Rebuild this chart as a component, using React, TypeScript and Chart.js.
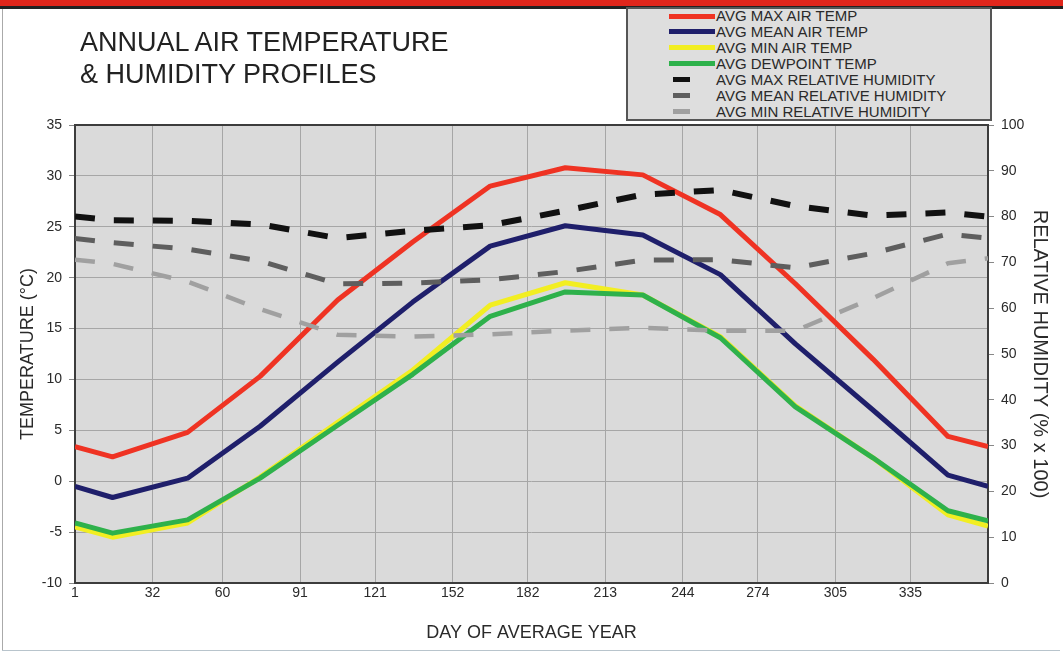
import React, { useEffect, useRef } from 'react';
import { Chart, registerables } from 'chart.js';

Chart.register(...registerables);

// ---- data ----
const days = [1, 16, 46, 75, 106, 136, 167, 197, 228, 259, 289, 320, 350, 366];
const avgMaxAirTemp = [3.4, 2.4, 4.8, 10.3, 17.8, 23.5, 29.0, 30.8, 30.1, 26.2, 19.4, 12.0, 4.4, 3.4];
const avgMeanAirTemp = [-0.5, -1.6, 0.3, 5.4, 11.7, 17.6, 23.1, 25.1, 24.2, 20.3, 13.5, 7.0, 0.6, -0.5];
const avgMinAirTemp = [-4.5, -5.5, -4.1, 0.4, 5.8, 10.9, 17.3, 19.5, 18.3, 14.2, 7.4, 2.3, -3.3, -4.4];
const avgDewpointTemp = [-4.1, -5.1, -3.8, 0.3, 5.5, 10.5, 16.2, 18.6, 18.3, 14.1, 7.3, 2.3, -2.9, -3.9];
const avgMaxRH = [80.0, 79.2, 79.1, 78.3, 75.3, 76.9, 78.1, 81.3, 84.8, 85.8, 82.3, 80.2, 80.9, 80.0];
const avgMeanRH = [75.2, 74.3, 72.9, 70.3, 65.3, 65.5, 66.2, 68.0, 70.5, 70.6, 68.8, 72.0, 76.2, 75.3];
const avgMinRH = [70.6, 69.7, 65.8, 59.8, 54.2, 53.8, 54.3, 55.1, 55.7, 55.1, 55.1, 62.2, 69.8, 70.9];

const dayTicks = [1, 32, 60, 91, 121, 152, 182, 213, 244, 274, 305, 335, 366];
const dayTickLabels = ['1', '32', '60', '91', '121', '152', '182', '213', '244', '274', '305', '335', ''];

const seriesNames = [
  'AVG MAX AIR TEMP',
  'AVG MEAN AIR TEMP',
  'AVG MIN AIR TEMP',
  'AVG DEWPOINT TEMP',
  'AVG MAX RELATIVE HUMIDITY',
  'AVG MEAN RELATIVE HUMIDITY',
  'AVG MIN RELATIVE HUMIDITY',
];
const seriesValues = [avgMaxAirTemp, avgMeanAirTemp, avgMinAirTemp, avgDewpointTemp, avgMaxRH, avgMeanRH, avgMinRH];
const seriesColors = ['#ef3323', '#1f1f6b', '#f2ee22', '#2eb14b', '#111111', '#5e5e5e', '#a0a0a0'];
const seriesAxis = ['yT', 'yT', 'yT', 'yT', 'yH', 'yH', 'yH'];
const seriesDashed = [false, false, false, false, true, true, true];
const seriesWidths = [5, 5, 5, 5, 6, 5, 4.5];
const seriesOrder = [4, 3, 6, 5, 0, 1, 2];

const FONT = '"Liberation Sans", Arial, Helvetica, sans-serif';

const plotBox = {
  id: 'plotBox',
  beforeDraw(chart: any) {
    const { ctx, chartArea } = chart;
    ctx.save();
    ctx.fillStyle = '#dadada';
    ctx.fillRect(chartArea.left, chartArea.top, chartArea.right - chartArea.left, chartArea.bottom - chartArea.top);
    ctx.restore();
  },
  beforeDatasetsDraw(chart: any) {
    const { ctx, chartArea } = chart;
    ctx.save();
    ctx.strokeStyle = '#3c3c3c';
    ctx.lineWidth = 2;
    ctx.strokeRect(chartArea.left, chartArea.top, chartArea.right - chartArea.left, chartArea.bottom - chartArea.top);
    ctx.restore();
  },
};

export default function App() {
  const canvasRef = useRef<HTMLCanvasElement>(null);

  useEffect(() => {
    document.body.style.margin = '0';
    const canvas = canvasRef.current;
    if (!canvas) return;
    Chart.defaults.font.family = FONT;
    const datasets = seriesNames.map((name, i) => ({
      label: name,
      data: days.map((d, j) => ({ x: d, y: seriesValues[i][j] })),
      borderColor: seriesColors[i],
      backgroundColor: seriesColors[i],
      borderWidth: seriesWidths[i],
      borderDash: seriesDashed[i] ? [20, 19] : [],
      borderJoinStyle: 'round' as const,
      pointRadius: 0,
      tension: 0,
      fill: false,
      yAxisID: seriesAxis[i],
      order: seriesOrder[i],
    }));
    const chart = new Chart(canvas, {
      type: 'line',
      data: { datasets },
      plugins: [plotBox],
      options: {
        animation: false,
        responsive: false,
        devicePixelRatio: 1,
        layout: { padding: { top: 125, left: 0, right: 0, bottom: 0 } },
        plugins: { legend: { display: false }, tooltip: { enabled: false }, title: { display: false } },
        scales: {
          x: {
            type: 'linear',
            min: 1,
            max: 366,
            afterBuildTicks: (scale: any) => {
              scale.ticks = dayTicks.map((v) => ({ value: v }));
            },
            afterFit: (scale: any) => {
              scale.height = 73;
            },
            ticks: {
              autoSkip: false,
              maxRotation: 0,
              padding: 2,
              color: '#2a2a2a',
              font: { size: 14 },
              callback: (v: any) => dayTickLabels[dayTicks.indexOf(Number(v))] ?? '',
            },
            grid: { color: '#a6a6a6', lineWidth: 1, drawTicks: false },
            border: { display: false },
            title: {
              display: true,
              text: 'DAY OF AVERAGE YEAR',
              color: '#2a2a2a',
              font: { size: 18 },
              padding: { top: 0, bottom: 12 },
            },
          },
          yT: {
            type: 'linear',
            position: 'left',
            min: -10,
            max: 35,
            ticks: { stepSize: 5, padding: 7, color: '#2a2a2a', font: { size: 14 } },
            afterFit: (scale: any) => {
              scale.width = 75;
            },
            grid: { color: '#a6a6a6', lineWidth: 1, drawTicks: true, tickLength: 6, tickColor: '#888' },
            border: { display: false },
            title: {
              display: true,
              text: 'TEMPERATURE (°C)',
              color: '#2a2a2a',
              font: { size: 18 },
              padding: { top: 17, bottom: 0 },
            },
          },
          yH: {
            type: 'linear',
            position: 'right',
            min: 0,
            max: 100,
            ticks: { stepSize: 10, padding: 7, color: '#2a2a2a', font: { size: 14 } },
            afterFit: (scale: any) => {
              scale.width = 75;
            },
            grid: { drawOnChartArea: false, drawTicks: true, tickLength: 6, tickColor: '#888' },
            border: { display: false },
            title: {
              display: true,
              text: 'RELATIVE HUMIDITY (% x 100)',
              color: '#2a2a2a',
              font: { size: 20 },
              padding: { top: 11, bottom: 0 },
            },
          },
        },
      },
    });
    return () => chart.destroy();
  }, []);

  const legendTop = 16;
  const legendStep = 15.95;

  return (
    <div
      style={{
        position: 'relative',
        width: 1063,
        height: 656,
        background: '#ffffff',
        overflow: 'hidden',
        fontFamily: FONT,
      }}
    >
      <div style={{ position: 'absolute', left: 0, top: 0, width: 1063, height: 6, background: '#e0261b' }} />
      <div style={{ position: 'absolute', left: 0, top: 6, width: 1063, height: 3, background: '#222' }} />
      <div style={{ position: 'absolute', left: 2, top: 9, width: 1, height: 641, background: '#aaa' }} />
      <div style={{ position: 'absolute', left: 2, top: 650, width: 1058, height: 1, background: '#b8c4cc' }} />
      <canvas
        ref={canvasRef}
        width={1063}
        height={656}
        style={{ position: 'absolute', left: 0, top: 0, width: 1063, height: 656 }}
      />
      <div
        style={{
          position: 'absolute',
          left: 80,
          top: 26,
          fontSize: 27,
          lineHeight: '32px',
          color: '#222',
          whiteSpace: 'nowrap',
        }}
      >
        ANNUAL AIR TEMPERATURE
        <br />
        &amp; HUMIDITY PROFILES
      </div>
      <div
        style={{
          position: 'absolute',
          left: 626,
          top: 7,
          width: 362,
          height: 110,
          background: '#dedede',
          border: '2px solid #555',
        }}
      />
      {seriesNames.map((name, i) => {
        const cy = legendTop + i * legendStep;
        const dashed = seriesDashed[i];
        return (
          <React.Fragment key={name}>
            <div
              style={{
                position: 'absolute',
                left: dashed ? 673 : 669,
                top: cy - 2.5,
                width: dashed ? 17 : 46,
                height: 5,
                background: seriesColors[i],
              }}
            />
            <div
              style={{
                position: 'absolute',
                left: 716,
                top: cy - 8,
                height: 16,
                lineHeight: '16px',
                fontSize: 15,
                color: '#2a2a2a',
                whiteSpace: 'nowrap',
              }}
            >
              {name}
            </div>
          </React.Fragment>
        );
      })}
    </div>
  );
}
